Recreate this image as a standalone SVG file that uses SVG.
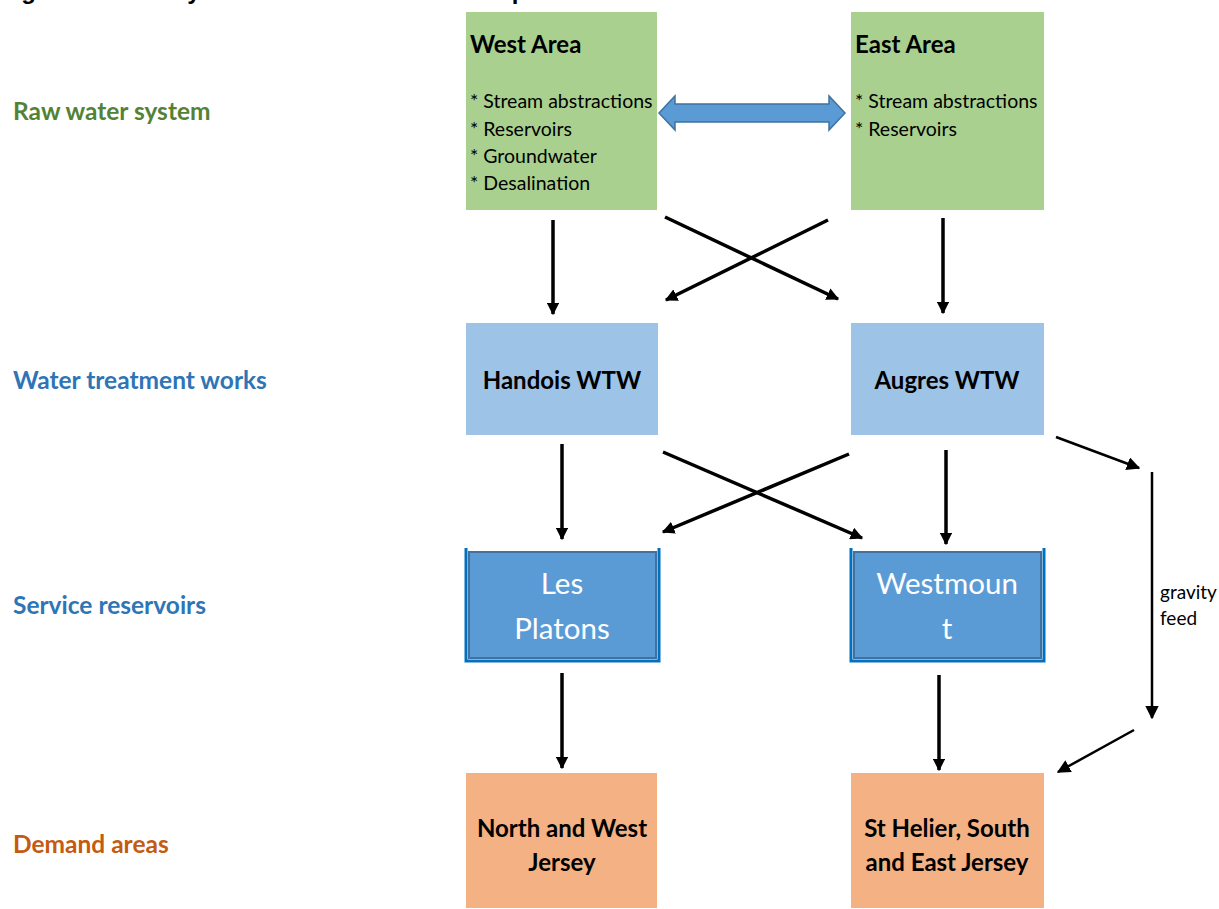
<svg xmlns="http://www.w3.org/2000/svg" width="1219" height="909" viewBox="0 0 1219 909">
<style>
.lbl{font-family:Lato,"Open Sans","Liberation Sans",sans-serif;font-weight:bold;font-size:24.5px}
.bx{font-family:Lato,"Open Sans","Liberation Sans",sans-serif;fill:#000}
.hd{font-weight:bold;font-size:24px}
.it{font-size:19.5px}
.wt{font-family:Lato,"Open Sans","Liberation Sans",sans-serif;fill:#fff;font-size:29.5px}
.conn line{stroke:#000;stroke-width:3.5}
.conn .thin{stroke-width:2.5}
</style>
<defs>
<marker id="ah" viewBox="0 0 10 10" refX="9" refY="5" markerWidth="3.6" markerHeight="3.6" orient="auto" markerUnits="strokeWidth">
<path d="M0,0 L10,5 L0,10 Z" fill="#000"/>
</marker>
<marker id="ah2" viewBox="0 0 10 10" refX="9" refY="5" markerWidth="5.4" markerHeight="5.4" orient="auto" markerUnits="strokeWidth">
<path d="M0,0 L10,5 L0,10 Z" fill="#000"/>
</marker>
</defs>
<rect width="1219" height="909" fill="#fff"/>
<text x="0" y="-1" font-family="'Liberation Sans',Arial,sans-serif" font-weight="bold" font-size="24">Figure A1: Jersey Water Resource Zone: Simplified Schematic</text>

<g id="labels" class="lbl">
<text x="13" y="120" fill="#548235">Raw water system</text>
<text x="13" y="389" fill="#2E75B6">Water treatment works</text>
<text x="13" y="614" fill="#2E75B6">Service reservoirs</text>
<text x="13" y="853" fill="#C55A11">Demand areas</text>
</g>

<g id="west-area">
<rect x="466" y="12" width="191" height="198" fill="#A9D08E"/>
<text class="bx hd" x="470" y="53">West Area</text>
<text class="bx it" x="470" y="108">* Stream abstractions</text>
<text class="bx it" x="470" y="136">* Reservoirs</text>
<text class="bx it" x="470" y="163">* Groundwater</text>
<text class="bx it" x="470" y="190">* Desalination</text>
</g>
<g id="east-area">
<rect x="851" y="12" width="193" height="198" fill="#A9D08E"/>
<text class="bx hd" x="855" y="53">East Area</text>
<text class="bx it" x="855" y="108">* Stream abstractions</text>
<text class="bx it" x="855" y="136">* Reservoirs</text>
</g>

<g id="handois">
<rect x="466" y="323" width="192" height="112" fill="#9DC3E6"/>
<text class="bx hd" x="562" y="389" text-anchor="middle">Handois WTW</text>
</g>
<g id="augres">
<rect x="851" y="323" width="193" height="112" fill="#9DC3E6"/>
<text class="bx hd" x="947" y="389" text-anchor="middle">Augres WTW</text>
</g>

<g id="les-platons">
<path d="M466,548 V661 H659 V548" fill="none" stroke="#0070C0" stroke-width="3"/>
<rect x="469" y="552" width="187" height="106" fill="#5B9BD5" stroke="#41719C" stroke-width="2"/>
<text class="wt" x="562" y="594" text-anchor="middle">Les</text>
<text class="wt" x="562" y="639" text-anchor="middle">Platons</text>
</g>
<g id="westmount">
<path d="M851,548 V661 H1044 V548" fill="none" stroke="#0070C0" stroke-width="3"/>
<rect x="854" y="552" width="187" height="106" fill="#5B9BD5" stroke="#41719C" stroke-width="2"/>
<text class="wt" x="947" y="594" text-anchor="middle">Westmoun</text>
<text class="wt" x="947" y="639" text-anchor="middle">t</text>
</g>

<g id="north-west">
<rect x="466" y="773" width="191" height="135" fill="#F4B183"/>
<text class="bx hd" x="562" y="837" text-anchor="middle">North and West</text>
<text class="bx hd" x="562" y="871" text-anchor="middle">Jersey</text>
</g>
<g id="st-helier">
<rect x="851" y="773" width="193" height="135" fill="#F4B183"/>
<text class="bx hd" x="947" y="837" text-anchor="middle">St Helier, South</text>
<text class="bx hd" x="947" y="871" text-anchor="middle">and East Jersey</text>
</g>

<g id="connectors" class="conn">
<path d="M659,113 L675,96 L675,104 L829,104 L829,96 L845,113 L829,130 L829,122 L675,122 L675,130 Z" fill="#5B9BD5" stroke="#41719C" stroke-width="1.5"/>
<line x1="553" y1="220" x2="553" y2="314" marker-end="url(#ah)"/>
<line x1="665" y1="217" x2="838" y2="299" marker-end="url(#ah)"/>
<line x1="828" y1="220" x2="666" y2="300" marker-end="url(#ah)"/>
<line x1="943" y1="218" x2="943" y2="313" marker-end="url(#ah)"/>
<line x1="562" y1="444" x2="562" y2="539" marker-end="url(#ah)"/>
<line x1="663" y1="452" x2="862" y2="538" marker-end="url(#ah)"/>
<line x1="849" y1="454" x2="663" y2="532" marker-end="url(#ah)"/>
<line x1="946" y1="450" x2="946" y2="544" marker-end="url(#ah)"/>
<line x1="562" y1="673" x2="562" y2="768" marker-end="url(#ah)"/>
<line x1="939" y1="675" x2="939" y2="770" marker-end="url(#ah)"/>
<line class="thin" x1="1056" y1="437" x2="1139" y2="468" marker-end="url(#ah2)"/>
<line class="thin" x1="1152" y1="472" x2="1152" y2="718" marker-end="url(#ah2)"/>
<line class="thin" x1="1134" y1="730" x2="1058" y2="772" marker-end="url(#ah2)"/>
</g>
<g id="gravity-label" font-family="Lato,'Open Sans','Liberation Sans',sans-serif" font-size="19">
<text x="1160" y="599">gravity</text>
<text x="1160" y="625">feed</text>
</g>
</svg>
